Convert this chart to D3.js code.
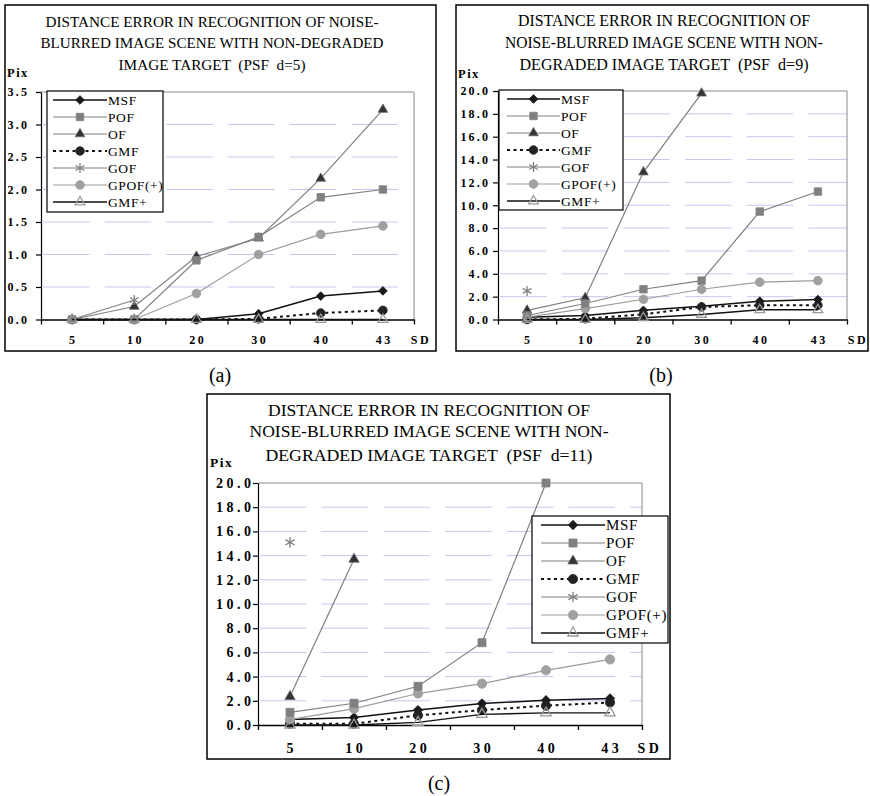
<!DOCTYPE html>
<html>
<head>
<meta charset="utf-8">
<script src="https://cdn.jsdelivr.net/npm/d3@7"></script>
<style>
  body { margin: 0; background: #fff; }
  svg { display: block; font-family: "Liberation Serif", "Times New Roman", serif; }
  text { white-space: pre; }
</style>
</head>
<body>
<svg id="fig" width="870" height="796"></svg>
<script>
// categories (x axis, noise SD)
var sdLabels = ['5', '10', '20', '30', '40', '43'];
var seriesNames = ['MSF', 'POF', 'OF', 'GMF', 'GOF', 'GPOF(+)', 'GMF+'];

// (a) PSF d=5
var msfA  = [0, 0, 0, 0.09, 0.36, 0.44];
var pofA  = [0, 0, 0.91, 1.27, 1.88, 2.0];
var ofA   = [0, 0.2, 0.97, 1.25, 2.17, 3.23];
var gmfA  = [0, 0, 0, 0.01, 0.1, 0.14];
var gofA  = [0, 0.3, null, null, null, null];
var gpofA = [0, 0, 0.4, 1.0, 1.31, 1.44];
var gmfpA = [0, 0, 0, 0, 0, 0];

// (b) PSF d=9
var msfB  = [0.2, 0.35, 0.8, 1.15, 1.6, 1.74];
var pofB  = [0.35, 1.4, 2.65, 3.4, 9.45, 11.2];
var ofB   = [0.8, 1.9, 12.9, 19.8, null, null];
var gmfB  = [0, 0.06, 0.45, 1.1, 1.25, 1.25];
var gofB  = [2.5, null, null, null, null, null];
var gpofB = [0.2, 0.95, 1.77, 2.65, 3.27, 3.4];
var gmfpB = [0, 0, 0.15, 0.44, 0.85, 0.85];

// (c) PSF d=11
var msfC  = [0.45, 0.63, 1.23, 1.78, 2.05, 2.2];
var pofC  = [1.05, 1.8, 3.2, 6.8, 20.0, null];
var ofC   = [2.35, 13.7, null, null, null, null];
var gmfC  = [0.1, 0.1, 0.8, 1.23, 1.6, 1.86];
var gofC  = [15.1, null, null, null, null, null];
var gpofC = [0.45, 1.35, 2.6, 3.42, 4.52, 5.42];
var gmfpC = [0, 0, 0.22, 0.88, 1.0, 1.0];

var titleA = ['DISTANCE ERROR IN RECOGNITION OF NOISE-', 'BLURRED IMAGE SCENE WITH NON-DEGRADED', 'IMAGE TARGET  (PSF  d=5)'];
var titleB = ['DISTANCE ERROR IN RECOGNITION OF', 'NOISE-BLURRED IMAGE SCENE WITH NON-', 'DEGRADED IMAGE TARGET  (PSF  d=9)'];
var titleC = ['DISTANCE ERROR IN RECOGNITION OF', 'NOISE-BLURRED IMAGE SCENE WITH NON-', 'DEGRADED IMAGE TARGET  (PSF  d=11)'];

var asterisk = d3.symbolAsterisk || {
  draw: function(ctx, size) {
    var r = Math.sqrt(size) * 0.6, t = r / 2, u = t * Math.sqrt(3);
    ctx.moveTo(0, r); ctx.lineTo(0, -r);
    ctx.moveTo(-u, -t); ctx.lineTo(u, t);
    ctx.moveTo(-u, t); ctx.lineTo(u, -t);
  }
};

var styles = {
  'MSF':     { line: '#111', width: 1.5, dash: null, type: d3.symbolSquare, size: 38, rot: 45, fill: '#1a1a1a', stroke: '#1a1a1a' },
  'POF':     { line: '#808080', width: 1.2, dash: null, type: d3.symbolSquare, size: 56, rot: 0, fill: '#808080', stroke: '#808080' },
  'OF':      { line: '#808080', width: 1.2, dash: null, type: d3.symbolTriangle, size: 40, rot: 0, fill: '#333', stroke: '#666' },
  'GMF':     { line: '#111', width: 2, dash: '3,3.5', type: d3.symbolCircle, size: 58, rot: 0, fill: '#222', stroke: '#222' },
  'GOF':     { line: '#808080', width: 1.2, dash: null, type: asterisk, size: 70, rot: 0, fill: 'none', stroke: '#808080' },
  'GPOF(+)': { line: '#9c9c9c', width: 1.2, dash: null, type: d3.symbolCircle, size: 60, rot: 0, fill: '#a0a0a0', stroke: '#a0a0a0' },
  'GMF+':    { line: '#111', width: 1.4, dash: null, type: d3.symbolTriangle, size: 40, rot: 0, fill: 'none', stroke: '#9a9a9a' }
};
// draw order of the series (indices into seriesNames)
var drawOrder = [0, 3, 2, 4, 5, 1, 6];

var panels = [
  {
    caption: '(a)', capPos: [220, 382], values: [msfA, pofA, ofA, gmfA, gofA, gpofA, gmfpA],
    box: [5, 5, 436, 351], plot: [41, 92, 414, 319.5], yMax: 3.5, yStep: 0.5,
    title: titleA, titleX: 212, titleY: [27, 48, 70], titleSize: 15.5, titleLen: [333, 343, 187],
    pix: [7, 77], pixSize: 12.5, tickFont: 12, tickLs: 2.2, tickPad: 6.8,
    xLabelY: 344, xLs: 2.5, sdX: 421,
    legend: [47, 91, 163, 212], legRow0: 100, legStep: 17, legFont: 13.5, legLine: [6, 60], legText: 61, mk: 1
  },
  {
    caption: '(b)', capPos: [661, 382], values: [msfB, pofB, ofB, gmfB, gofB, gpofB, gmfpB],
    box: [456, 5, 868, 351], plot: [498, 91, 847, 319.5], yMax: 20, yStep: 2,
    title: titleB, titleX: 664, titleY: [26, 48, 70], titleSize: 16, titleLen: [292, 318, 289],
    pix: [458, 78], pixSize: 12.5, tickFont: 12, tickLs: 2.2, tickPad: 2.8,
    xLabelY: 344, xLs: 2.5, sdX: 858,
    legend: [499, 90, 623, 210], legRow0: 99, legStep: 17, legFont: 13.5, legLine: [8, 61], legText: 62, mk: 1
  },
  {
    caption: '(c)', capPos: [439, 790], values: [msfC, pofC, ofC, gmfC, gofC, gpofC, gmfpC],
    box: [207, 394, 670, 759], plot: [258, 483, 642, 725], yMax: 20, yStep: 2,
    title: titleC, titleX: 429, titleY: [416, 437, 461], titleSize: 17.5, titleLen: [322, 359, 327],
    pix: [210, 467], pixSize: 13.5, tickFont: 14, tickLs: 3.5, tickPad: -1.5,
    xLabelY: 753, xLs: 3.5, sdX: 650,
    legend: [532, 516, 668, 643], legRow0: 525, legStep: 18, legFont: 15, legLine: [9, 73], legText: 74, mk: 1.15
  }
];

var svg = d3.select('#fig');

function marker(sel, st, mk) {
  sel.attr('d', d3.symbol().type(st.type).size(st.size * mk)())
    .attr('fill', st.fill)
    .attr('stroke', st.stroke)
    .attr('stroke-width', st.fill === 'none' ? 1.3 : 0.8);
}

function drawPanel(p) {
  var g = svg.append('g');
  var left = p.plot[0], top = p.plot[1], right = p.plot[2], bottom = p.plot[3];

  g.append('rect')
    .attr('x', p.box[0]).attr('y', p.box[1])
    .attr('width', p.box[2] - p.box[0]).attr('height', p.box[3] - p.box[1])
    .attr('fill', '#fff').attr('stroke', '#000').attr('stroke-width', 1.5);

  // title
  g.selectAll('.title').data(p.title).join('text')
    .attr('x', p.titleX).attr('y', function(d, i) { return p.titleY[i]; })
    .attr('text-anchor', 'middle')
    .attr('font-size', p.titleSize)
    .attr('textLength', function(d, i) { return p.titleLen[i]; })
    .attr('lengthAdjust', 'spacingAndGlyphs')
    .text(function(d) { return d; });

  var x = d3.scaleBand().domain(sdLabels).range([left, right]);
  var y = d3.scaleLinear().domain([0, p.yMax]).range([bottom, top]);
  var yTicks = d3.range(0, p.yMax + p.yStep / 2, p.yStep);

  // dashed grid
  g.append('g').selectAll('line')
    .data(yTicks.filter(function(v) { return v > 0 && v < p.yMax - 1e-9; }))
    .join('line')
    .attr('x1', left + 2).attr('x2', right)
    .attr('y1', function(d) { return y(d); }).attr('y2', function(d) { return y(d); })
    .attr('stroke', '#c6c6f2').attr('stroke-width', 1)
    .attr('stroke-dasharray', '46.5,15.2');

  // plot frame (top/right, gray)
  g.append('path')
    .attr('d', 'M' + left + ',' + top + 'H' + right + 'V' + bottom)
    .attr('fill', 'none').attr('stroke', '#8a8a8a').attr('stroke-width', 1);

  // y axis
  var yAxis = g.append('g').attr('transform', 'translate(' + left + ',0)')
    .call(d3.axisLeft(y).tickValues(yTicks).tickFormat(d3.format('.1f'))
      .tickSize(5).tickSizeOuter(0).tickPadding(p.tickPad));
  yAxis.selectAll('path, line').attr('stroke', '#000').attr('stroke-width', 1.2);
  yAxis.selectAll('text')
    .attr('font-family', '"Liberation Serif", serif')
    .attr('font-size', p.tickFont).attr('font-weight', 'bold')
    .attr('letter-spacing', p.tickLs).attr('fill', '#000');

  // x axis: tick marks on band boundaries
  var xb = d3.scaleLinear().domain([0, sdLabels.length]).range([left, right]);
  var xAxis = g.append('g').attr('transform', 'translate(0,' + bottom + ')')
    .call(d3.axisBottom(xb).tickValues(d3.range(sdLabels.length + 1)).tickFormat('')
      .tickSize(5).tickSizeOuter(0));
  xAxis.selectAll('path, line').attr('stroke', '#000').attr('stroke-width', 1.3);

  // x labels at band centres
  var xLab = g.append('g').attr('transform', 'translate(0,' + (p.xLabelY - 10) + ')')
    .call(d3.axisBottom(x).tickSize(0).tickPadding(0));
  xLab.select('.domain').remove();
  xLab.selectAll('text')
    .attr('y', 10).attr('dy', 0).attr('dx', p.xLs / 2)
    .attr('font-family', '"Liberation Serif", serif')
    .attr('font-size', p.tickFont).attr('font-weight', 'bold')
    .attr('letter-spacing', p.xLs).attr('fill', '#000');

  g.append('text').attr('x', p.sdX).attr('y', p.xLabelY)
    .attr('text-anchor', 'middle').attr('font-size', p.tickFont).attr('font-weight', 'bold')
    .attr('letter-spacing', p.xLs).text('SD');

  g.append('text').attr('x', p.pix[0]).attr('y', p.pix[1])
    .attr('font-size', p.pixSize).attr('font-weight', 'bold')
    .attr('letter-spacing', 1.5).text('Pix');

  // series
  var line = d3.line()
    .defined(function(d) { return d.v != null; })
    .x(function(d) { return x(d.sd) + x.bandwidth() / 2; })
    .y(function(d) { return y(d.v); });

  drawOrder.forEach(function(si) {
    var name = seriesNames[si], st = styles[name];
    var pts = p.values[si].map(function(v, i) { return { sd: sdLabels[i], v: v }; });
    var sg = g.append('g');
    sg.append('path').datum(pts)
      .attr('d', line)
      .attr('fill', 'none').attr('stroke', st.line).attr('stroke-width', st.width)
      .attr('stroke-dasharray', st.dash);
    sg.selectAll('path.mk').data(pts.filter(function(d) { return d.v != null; }))
      .join('path').attr('class', 'mk')
      .attr('transform', function(d) {
        return 'translate(' + (x(d.sd) + x.bandwidth() / 2) + ',' + y(d.v) + ') rotate(' + st.rot + ')';
      })
      .call(marker, st, p.mk);
  });

  // legend
  var L = p.legend;
  var lg = g.append('g');
  lg.append('rect').attr('x', L[0]).attr('y', L[1])
    .attr('width', L[2] - L[0]).attr('height', L[3] - L[1])
    .attr('fill', '#fff').attr('stroke', '#000').attr('stroke-width', 1.2);
  var rows = lg.selectAll('g.row').data(seriesNames).join('g')
    .attr('class', 'row')
    .attr('transform', function(d, i) { return 'translate(' + L[0] + ',' + (p.legRow0 + i * p.legStep) + ')'; });
  rows.append('line')
    .attr('x1', p.legLine[0]).attr('x2', p.legLine[1])
    .attr('stroke', function(d) { return styles[d].line; })
    .attr('stroke-width', function(d) { return styles[d].width; })
    .attr('stroke-dasharray', function(d) { return styles[d].dash; });
  rows.append('path')
    .each(function(d) {
      var st = styles[d];
      d3.select(this)
        .attr('transform', 'translate(' + (p.legLine[0] + p.legLine[1]) / 2 + ',0) rotate(' + st.rot + ')')
        .call(marker, st, p.mk);
    });
  rows.append('text')
    .attr('x', p.legText).attr('dy', '0.35em')
    .attr('font-size', p.legFont).attr('letter-spacing', 0.6)
    .text(function(d) { return d; });

  // caption
  svg.append('text').attr('x', p.capPos[0]).attr('y', p.capPos[1])
    .attr('text-anchor', 'middle').attr('font-size', 20).text(p.caption);
}

panels.forEach(drawPanel);
</script>
</body>
</html>
